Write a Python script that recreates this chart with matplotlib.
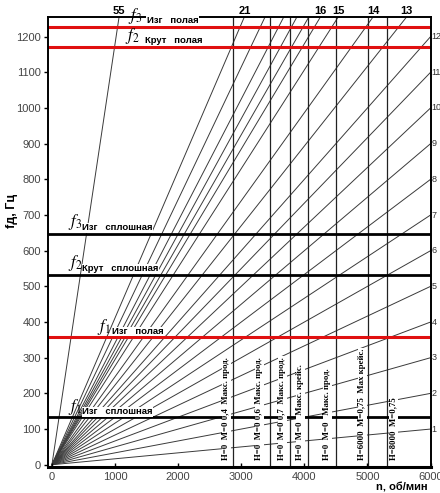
import numpy as np
import matplotlib.pyplot as plt

plt.rcParams['font.family'] = ['Liberation Sans', 'DejaVu Sans']
plt.rcParams['mathtext.fontset'] = 'stix'

# engine-order lines: label on chart and slope (Hz per rev/s)
order_labels = [1, 2, 3, 4, 5, 6, 7, 8, 9, 10, 11, 12,
                13, 14, 15, 16, 17, 18, 19, 20, 21, 55]
order_slopes = [1, 2, 3, 4, 5, 6, 7, 8, 9, 10, 11, 12,
                13.4, 14.8, 16.6, 17.7, 18.5, 19.4, 20.5, 22.3, 24.7, 70.8]
top_labeled = [13, 14, 15, 16, 21, 55]

# blade natural frequencies
mode_freqs = [1228, 1171, 647, 532, 358, 134]
mode_index = ['3', '2', '3', '2', '1', '1']
mode_kind = ['Изг', 'Крут', 'Изг', 'Крут', 'Изг', 'Изг']
mode_blade = ['полая', 'полая', 'сплошная', 'сплошная', 'полая', 'сплошная']
mode_red = [True, True, False, False, True, False]

# operating regimes (vertical lines, rpm) and their captions
regime_rpm = [2873, 3460, 3778, 4063, 4508, 5016, 5302]
regime_text = ['Н=0  М=0 0,4  Макс. прод.',
               'Н=0  М=0 0,6  Макс. прод.',
               'Н=0  М=0 0,7  Макс. прод.',
               'Н=0  М=0   Макс. крейс.',
               'Н=0  М=0   Макс. прод.',
               'Н=6000  М=0,75  Мах крейс.',
               'Н=8000  М=0,75']
regime_text_rpm = [2762, 3286, 3651, 3937, 4365, 4921, 5413]

y_top = 1255
n_max = 6000

fig = plt.figure(figsize=(4.4, 4.93), dpi=100)
ax = fig.add_axes([0.109, 0.053, 0.871, 0.9125])
ax.set_xlim(-63, 6010)
ax.set_ylim(-6, y_top)

n = np.array([0, n_max])
for lab, k in zip(order_labels, order_slopes):
    ax.plot(n, k * n / 60, color='#3a3a3a', lw=0.7, zorder=1)
    if lab in top_labeled:
        ax.text(y_top * 60 / k, y_top + 3, str(lab), ha='center', va='bottom',
                fontsize=8, fontweight='bold', clip_on=False)
    if k <= 12:
        ax.text(n_max + 12, k * n_max / 60, str(lab), ha='left', va='center',
                fontsize=6.5, color='#333333', clip_on=False)

for r in regime_rpm:
    ax.axvline(r, color='#222222', lw=0.9, zorder=1)

for t, r in zip(regime_text, regime_text_rpm):
    ax.text(r, 14, t, rotation=90, ha='center', va='bottom', fontsize=6.3,
            family='Liberation Serif', fontweight='bold', zorder=4,
            bbox=dict(facecolor='white', edgecolor='none', pad=0.3))

# label positions (rpm of f, Hz of f, rpm of words, Hz of words)
lab_pos = [(1206, 1258, 1500, 1244),
           (1159, 1202, 1470, 1188),
           (254, 681, 480, 664),
           (254, 566, 480, 549),
           (714, 387, 950, 373),
           (254, 162, 480, 148)]

for f, idx, kind, blade, red, pos in zip(mode_freqs, mode_index, mode_kind,
                                         mode_blade, mode_red, lab_pos):
    ax.axhline(f, color='#e01010' if red else 'black', lw=2.2 if red else 2.0,
               zorder=2)
    ax.text(pos[2], pos[3], kind + '   ' + blade, fontsize=6.8,
            fontweight='bold', ha='left', va='center', zorder=5,
            clip_on=False,
            bbox=dict(facecolor='white', edgecolor='none', pad=0.2))
    ax.text(pos[0], pos[1], r'$f_{%s}$' % idx, fontsize=12, ha='left',
            va='center', zorder=6, clip_on=False)

ax.set_xticks([0, 1000, 2000, 3000, 4000, 5000, 6000])
ax.set_yticks(np.arange(0, 1300, 100))
ax.tick_params(axis='y', direction='out', length=3, width=1, pad=2,
               labelsize=8, labelcolor='#444444')
ax.tick_params(axis='x', direction='in', length=3, width=1, pad=4,
               labelsize=8, labelcolor='#444444')
for s in ax.spines.values():
    s.set_linewidth(1.4)
ax.spines['bottom'].set_linewidth(2.2)

ax.set_ylabel('fд, Гц', fontsize=9, fontweight='bold')
ax.yaxis.set_label_coords(-0.078, 0.57)
ax.text(0.924, -0.045, 'n, об/мин', transform=ax.transAxes, fontsize=8,
        fontweight='bold', ha='center', va='center')

fig.savefig('out.png', dpi=100)
